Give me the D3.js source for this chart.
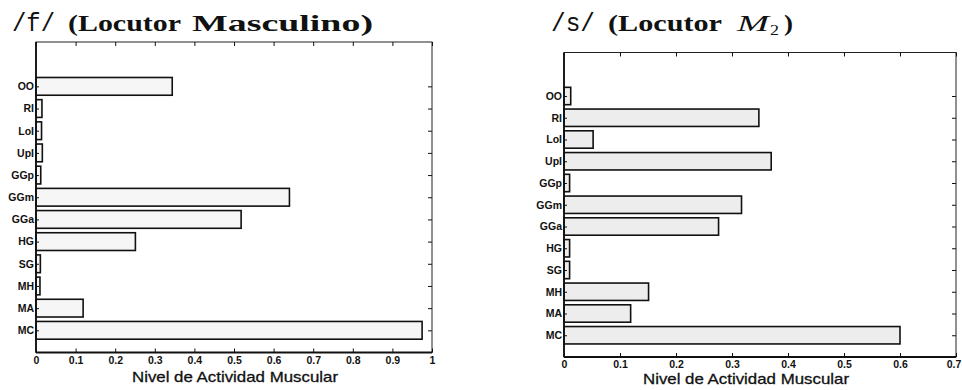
<!DOCTYPE html>
<html>
<head>
<meta charset="utf-8">
<script src="https://cdn.jsdelivr.net/npm/d3@7"></script>
<style>
  html, body { margin: 0; padding: 0; background: #fff; }
  svg { display: block; }
</style>
</head>
<body>
<svg id="chart" width="962" height="390"></svg>
<script>
// Muscles, listed from the bottom bar to the top bar
const categories = ["MC", "MA", "MH", "SG", "HG", "GGa", "GGm", "GGp", "UpI", "LoI", "RI", "OO"];

// Muscular activity level for /f/ (male speaker)
const valuesF = [0.975, 0.119, 0.010, 0.011, 0.251, 0.518, 0.640, 0.012, 0.016, 0.014, 0.015, 0.344];

// Muscular activity level for /s/ (speaker M2)
const valuesS = [0.600, 0.119, 0.151, 0.010, 0.010, 0.276, 0.317, 0.010, 0.370, 0.052, 0.348, 0.012];

const ticksF = [0, 0.1, 0.2, 0.3, 0.4, 0.5, 0.6, 0.7, 0.8, 0.9, 1];
const ticksS = [0, 0.1, 0.2, 0.3, 0.4, 0.5, 0.6, 0.7];

const xTitle = "Nivel de Actividad Muscular";

const svg = d3.select("#chart");
const sans = "Liberation Sans, Arial, sans-serif";
const pageWidth = 962;

function drawPanel(opt) {
  const g = svg.append("g");
  const x = d3.scaleLinear().domain(opt.xDomain).range([opt.left, opt.right]);
  const y = d3.scaleLinear().domain([0, 14]).range([opt.bottom, opt.top]);
  const band = (y(0) - y(1)) * 0.8;

  // bars
  g.selectAll("rect.bar")
    .data(opt.values)
    .join("rect")
    .attr("class", "bar")
    .attr("x", x(0))
    .attr("y", (d, i) => y(i + 1) - band / 2)
    .attr("width", d => x(d) - x(0))
    .attr("height", band)
    .attr("fill", opt.fill)
    .attr("stroke", "#111")
    .attr("stroke-width", 1.6);

  // frame
  g.append("rect")
    .attr("x", opt.left).attr("y", opt.top)
    .attr("width", opt.right - opt.left).attr("height", opt.bottom - opt.top)
    .attr("fill", "none").attr("stroke", "#222").attr("stroke-width", 1);
  g.append("line")
    .attr("x1", opt.left).attr("x2", opt.right)
    .attr("y1", opt.bottom).attr("y2", opt.bottom)
    .attr("stroke", "#111").attr("stroke-width", 1.8);
  g.append("line")
    .attr("x1", opt.left).attr("x2", opt.left)
    .attr("y1", opt.top).attr("y2", opt.bottom)
    .attr("stroke", "#111").attr("stroke-width", 1.8);

  // bottom axis: inward ticks and labels
  const xAxis = d3.axisBottom(x).tickValues(opt.ticks)
    .tickSize(-4).tickPadding(4)
    .tickFormat(d => d === 0 ? "0" : (d === 1 ? "1" : d3.format(".1f")(d)));
  const ax = g.append("g").attr("transform", `translate(0,${opt.bottom})`).call(xAxis);
  ax.select(".domain").remove();
  ax.selectAll(".tick line").attr("stroke", "#111").attr("stroke-width", 1);
  ax.selectAll(".tick text")
    .attr("font-family", sans)
    .attr("font-size", 10.5).attr("font-weight", "bold").attr("fill", "#111");
  // keep a label at the page's right edge inside the page
  ax.selectAll(".tick text").each(function () {
    const box = this.getBBox();
    const tx = x(d3.select(this.parentNode).datum());
    const overflow = tx + box.x + box.width - (pageWidth - 1);
    if (overflow > 0) d3.select(this).attr("x", -overflow);
  });

  // top ticks
  const axTop = g.append("g").attr("transform", `translate(0,${opt.top})`)
    .call(d3.axisTop(x).tickValues(opt.ticks).tickSize(-4).tickFormat(""));
  axTop.select(".domain").remove();
  axTop.selectAll(".tick line").attr("stroke", "#111");

  // left axis labels
  const yAxis = d3.axisLeft(y).tickValues(d3.range(1, 13))
    .tickSize(-3).tickPadding(2)
    .tickFormat(d => categories[d - 1]);
  const ay = g.append("g").attr("transform", `translate(${opt.left},0)`).call(yAxis);
  ay.select(".domain").remove();
  ay.selectAll(".tick line").attr("stroke", "#111");
  ay.selectAll(".tick text")
    .attr("font-family", sans)
    .attr("font-size", 10.5).attr("font-weight", "bold").attr("fill", "#111");

  // right ticks
  const ayR = g.append("g").attr("transform", `translate(${opt.right},0)`)
    .call(d3.axisRight(y).tickValues(d3.range(1, 13)).tickSize(-4).tickFormat(""));
  ayR.select(".domain").remove();
  ayR.selectAll(".tick line").attr("stroke", "#111");

  // x axis title
  g.append("text")
    .attr("x", (opt.left + opt.right) / 2 + opt.titleShift)
    .attr("y", opt.bottom + opt.titleDrop)
    .attr("text-anchor", "middle")
    .attr("font-family", sans)
    .attr("font-size", 15)
    .attr("fill", "#111")
    .attr("stroke", "#111")
    .attr("stroke-width", 0.3)
    .attr("textLength", 206)
    .attr("lengthAdjust", "spacingAndGlyphs")
    .text(xTitle);

  return g;
}

drawPanel({
  left: 36, right: 432, top: 42, bottom: 352.5,
  xDomain: [0, 1], ticks: ticksF, values: valuesF,
  fill: "#f6f6f6", titleShift: 1, titleDrop: 29
});

drawPanel({
  left: 564, right: 956, top: 52.5, bottom: 357,
  xDomain: [0, 0.7], ticks: ticksS, values: valuesS,
  fill: "#ededed", titleShift: -14, titleDrop: 27
});

// panel titles
function titlePart(xPos, str, family, size, width, opts = {}) {
  svg.append("text")
    .attr("x", xPos).attr("y", opts.y || 31)
    .attr("font-family", family)
    .attr("font-size", size)
    .attr("font-weight", opts.weight || "bold")
    .attr("font-style", opts.style || "normal")
    .attr("fill", "#111")
    .attr("textLength", width)
    .attr("lengthAdjust", "spacingAndGlyphs")
    .text(str);
}
const mono = "Liberation Mono, DejaVu Sans Mono, monospace";
const serif = "Liberation Serif, serif";

titlePart(12, "/f/", mono, 25, 43, { weight: "normal" });
titlePart(68, "(Locutor", serif, 23, 113);
titlePart(192, "Masculino)", serif, 23, 181);

titlePart(551, "/s/", mono, 25, 44, { weight: "normal" });
titlePart(608, "(Locutor", serif, 23, 114);
titlePart(737, "M", serif, 23, 32, { weight: "normal", style: "italic" });
titlePart(770, "2", serif, 15, 9, { weight: "normal", y: 35 });
titlePart(784, ")", serif, 23, 9);
</script>
</body>
</html>
